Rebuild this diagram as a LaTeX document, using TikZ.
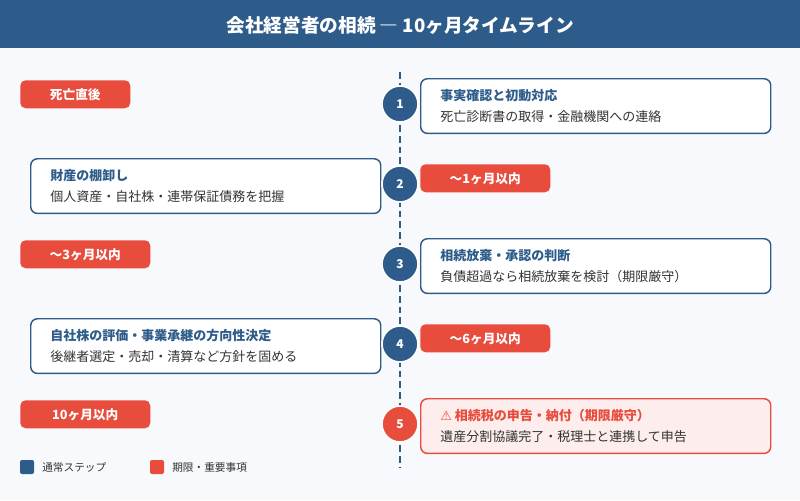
\documentclass[tikz,border=0pt]{standalone}
\usepackage{fontspec}
\setmainfont{Noto Sans CJK JP}
\newfontfamily\symfont{DejaVu Sans}
\definecolor{navy}{HTML}{2E5C8A}
\definecolor{alert}{HTML}{E74C3C}
\definecolor{paper}{HTML}{F7F9FC}
\definecolor{ink}{HTML}{333333}
\definecolor{pinkbg}{HTML}{FDEDEC}
\tikzset{
  card/.style = {draw=navy, line width=1.1pt, fill=white, rounded corners=5pt, minimum width=262.5pt, minimum height=41pt, anchor=north west},
  alertcard/.style = {card, draw=alert, fill=pinkbg},
  stepdot/.style = {circle, fill=navy, draw=white, line width=1.2pt, minimum size=27pt, inner sep=0pt, text=white, font=\bfseries\small},
  tag/.style = {fill=alert, rounded corners=4pt, text=white, font=\bfseries\fontsize{9.5}{11}\selectfont, minimum height=21pt, anchor=north west},
  head/.style = {text=navy, font=\bfseries\fontsize{9.75}{11}\selectfont, anchor=west, inner sep=0pt},
  body/.style = {text=ink, font=\fontsize{9.75}{11}\selectfont, anchor=west, inner sep=0pt}
}
\begin{document}
\begin{tikzpicture}[x=0.75pt, y=-0.75pt]
\useasboundingbox (0,0) rectangle (800,500);
\fill[paper] (0,0) rectangle (800,500);
\fill[navy] (0,0) rectangle (800,48);
\node[text=white, font=\bfseries\fontsize{14}{16}\selectfont] (title) at (400,25) {会社経営者の相続 ― 10ヶ月タイムライン};

% timeline
\coordinate (top) at (400,72);
\coordinate (bottom) at (400,468);
\draw[navy, line width=1.8pt, dash pattern=on 5pt off 3pt] (top) -- (bottom);

% cards
\node[card] (c1) at (420,78) {};
\node[head] at (440,96) {事実確認と初動対応};
\node[body] at (440,117) {死亡診断書の取得・金融機関への連絡};
\node[card] (c2) at (30,158) {};
\node[head] at (50,176) {財産の棚卸し};
\node[body] at (50,197) {個人資産・自社株・連帯保証債務を把握};
\node[card] (c3) at (420,238) {};
\node[head] at (440,256) {相続放棄・承認の判断};
\node[body] at (440,277) {負債超過なら相続放棄を検討（期限厳守）};
\node[card] (c4) at (30,318) {};
\node[head] at (50,336) {自社株の評価・事業承継の方向性決定};
\node[body] at (50,357) {後継者選定・売却・清算など方針を固める};
\node[alertcard] (c5) at (420,398) {};
\node[head, text=alert] at (440,416) {{\symfont ⚠} 相続税の申告・納付（期限厳守）};
\node[body] at (440,437) {遺産分割協議完了・税理士と連携して申告};

% steps
\foreach \n/\y in {1/104, 2/184, 3/264, 4/344}
  \node[stepdot] (s\n) at (400,\y) {\n};
\node[stepdot, fill=alert] (s5) at (400,424) {5};

% deadlines
\node[tag, minimum width=82.5pt] (t0) at (20,80) {死亡直後};
\node[tag, minimum width=97.5pt] (t1) at (420,164) {～1ヶ月以内};
\node[tag, minimum width=97.5pt] (t3) at (20,240) {～3ヶ月以内};
\node[tag, minimum width=97.5pt] (t6) at (420,324) {～6ヶ月以内};
\node[tag, minimum width=97.5pt] (t10) at (20,400) {10ヶ月以内};

% legend
\fill[navy, rounded corners=1.5pt] (20,460) rectangle (34,474);
\node[body, font=\footnotesize] (l1) at (42,467) {通常ステップ};
\fill[alert, rounded corners=1.5pt] (150,460) rectangle (164,474);
\node[body, font=\footnotesize] (l2) at (172,467) {期限・重要事項};
\end{tikzpicture}
\end{document}
